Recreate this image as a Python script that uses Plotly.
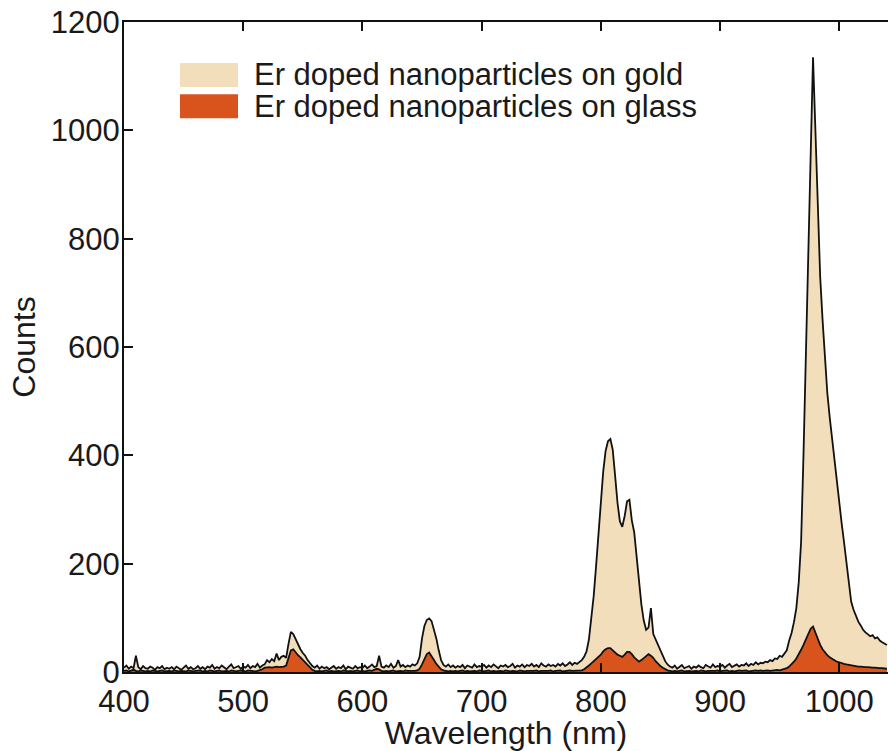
import plotly.graph_objects as go

# ---------------- data ----------------
wavelength = list(range(400, 1042, 2))  # nm, 2-nm sampling

gold_counts = [
    8, 12, 6, 10, 7, 30, 9, 5, 11, 7,          # 400-418
    6, 10, 8, 4, 9, 7, 11, 5, 8, 6,            # 420-438
    9, 5, 10, 7, 4, 8, 12, 6, 9, 5,            # 440-458
    7, 11, 6, 9, 5, 10, 8, 13, 6, 9,           # 460-478
    7, 12, 8, 5, 10, 14, 7, 9, 11, 6,          # 480-498
    10, 8, 13, 7, 11, 9, 15, 8, 12, 14,        # 500-518
    22, 18, 24, 20, 34, 22, 28, 30, 26, 52,    # 520-538
    74, 70, 60, 50, 42, 35, 30, 22, 16, 11,    # 540-558
    8, 12, 6, 10, 7, 9, 5, 8, 11, 6,           # 560-578
    9, 7, 12, 5, 10, 8, 6, 11, 7, 9,           # 580-598
    8, 12, 7, 10, 14, 9, 11, 30, 10, 8,        # 600-618
    12, 9, 15, 8, 11, 22, 10, 13, 9, 12,       # 620-638
    10, 14, 12, 16, 28, 62, 85, 96, 99, 94,    # 640-658
    78, 62, 40, 22, 13, 10, 14, 9, 12, 8,      # 660-678
    11, 9, 13, 7, 12, 10, 8, 14, 9, 11,        # 680-698
    10, 13, 8, 12, 9, 14, 11, 7, 12, 10,       # 700-718
    13, 9, 11, 15, 8, 12, 10, 14, 9, 13,       # 720-738
    11, 15, 10, 13, 9, 16, 12, 10, 14, 11,     # 740-758
    13, 10, 15, 12, 16, 11, 14, 18, 13, 17,    # 760-778
    15, 18, 22, 28, 38, 60, 100, 140, 195, 255,        # 780-798
    315, 370, 408, 426, 430, 410, 362, 312, 278, 268,  # 800-818
    288, 315, 318, 280, 258, 210, 165, 125, 95, 78,    # 820-838
    82, 118, 70, 60, 50, 40, 30, 20, 14, 10,   # 840-858
    8, 12, 6, 10, 13, 7, 9, 11, 6, 10,         # 860-878
    8, 12, 9, 7, 13, 10, 8, 14, 9, 11,         # 880-898
    10, 13, 8, 12, 15, 9, 11, 14, 10, 13,      # 900-918
    12, 16, 11, 15, 13, 18, 14, 17, 16, 19,    # 920-938
    18, 22, 20, 25, 24, 30, 28, 35, 40, 58,    # 940-958
    72, 92, 118, 165, 240, 400, 580, 770, 930, 1135,   # 960-978
    1000, 850, 730, 650, 582, 515, 470, 430, 385, 350, # 980-998
    315, 275, 240, 200, 160, 130, 115, 102, 93, 86,    # 1000-1018
    78, 73, 70, 66, 68, 62, 64, 58, 55, 52,    # 1020-1038
    50,                                        # 1040
]

glass_counts = [
    2, 3, 1, 2, 4, 2, 1, 3, 2, 1,              # 400-418
    2, 1, 3, 2, 1, 2, 3, 1, 2, 2,              # 420-438
    1, 3, 2, 1, 2, 2, 1, 3, 2, 1,              # 440-458
    2, 2, 3, 1, 2, 1, 3, 2, 1, 2,              # 460-478
    3, 1, 2, 2, 1, 3, 2, 1, 2, 3,              # 480-498
    2, 1, 3, 2, 2, 1, 2, 3, 5, 8,              # 500-518
    9, 9, 8, 9, 10, 9, 9, 10, 12, 25,          # 520-538
    40, 42, 36, 31, 27, 22, 17, 12, 7, 4,      # 540-558
    2, 1, 2, 1, 2, 3, 1, 2, 1, 2,              # 560-578
    2, 1, 3, 2, 1, 2, 1, 2, 3, 1,              # 580-598
    2, 1, 2, 3, 2, 4, 6, 5, 2, 1,              # 600-618
    2, 1, 2, 3, 1, 2, 2, 1, 3, 2,              # 620-638
    2, 1, 2, 3, 6, 14, 25, 33, 36, 30,         # 640-658
    22, 15, 9, 5, 3, 2, 1, 2, 1, 2,            # 660-678
    1, 2, 3, 1, 2, 1, 2, 2, 1, 3,              # 680-698
    2, 1, 2, 3, 1, 2, 1, 2, 2, 1,              # 700-718
    3, 2, 1, 2, 2, 1, 3, 2, 1, 2,              # 720-738
    2, 1, 2, 3, 1, 2, 2, 1, 2, 3,              # 740-758
    1, 2, 2, 3, 1, 2, 2, 3, 2, 2,              # 760-778
    2, 2, 3, 5, 8, 12, 16, 20, 24, 27,         # 780-798
    32, 38, 42, 44, 44, 40, 36, 32, 30, 28,    # 800-818
    32, 37, 37, 33, 27, 23, 19, 22, 26, 30,    # 820-838
    33, 30, 26, 20, 15, 11, 8, 5, 3, 2,        # 840-858
    1, 2, 1, 2, 3, 1, 2, 2, 1, 2,              # 860-878
    2, 1, 3, 2, 1, 2, 2, 1, 2, 3,              # 880-898
    1, 2, 2, 3, 1, 2, 1, 2, 3, 2,              # 900-918
    2, 3, 1, 2, 2, 3, 2, 3, 2, 3,              # 920-938
    3, 2, 3, 3, 4, 3, 4, 5, 7, 10,             # 940-958
    14, 19, 25, 32, 41, 50, 60, 70, 80, 84,    # 960-978
    72, 60, 50, 42, 36, 31, 27, 24, 21, 19,    # 980-998
    18, 16, 15, 14, 13, 12, 11, 11, 10, 10,    # 1000-1018
    9, 9, 9, 8, 8, 8, 7, 7, 7, 7,              # 1020-1038
    6,                                         # 1040
]

series_names = ["Er doped nanoparticles on gold", "Er doped nanoparticles on glass"]
series_colors = ["#F3DEBB", "#D9531C"]
x_ticks = [400, 500, 600, 700, 800, 900, 1000]
y_ticks = [0, 200, 400, 600, 800, 1000, 1200]

FONT = "Liberation Sans, Arial, sans-serif"
TXT = "#1a1a1a"

fig = go.Figure()
for name, vals, col in zip(series_names, [gold_counts, glass_counts], series_colors):
    fig.add_trace(go.Scatter(
        x=wavelength, y=vals, name=name, mode="lines",
        fill="tozeroy", fillcolor=col,
        line=dict(color="#111111", width=1.8),
        showlegend=False, hoverinfo="x+y",
    ))

# manual legend (patches + labels)
legend_y = [(0.937, 0.900), (0.889, 0.852)]
for (y1, y0), name, col in zip(legend_y, series_names, series_colors):
    fig.add_shape(type="rect", xref="paper", yref="paper",
                  x0=0.0733, x1=0.1492, y0=y0, y1=y1,
                  fillcolor=col, line=dict(width=0), layer="above")
    fig.add_annotation(xref="paper", yref="paper", x=0.167, y=(y0 + y1) / 2,
                       text=name, showarrow=False, xanchor="left", yanchor="middle",
                       font=dict(family=FONT, size=31, color=TXT))

fig.update_layout(
    width=888, height=751,
    margin=dict(l=124, r=0, t=22, b=79),
    paper_bgcolor="white", plot_bgcolor="white",
    font=dict(family=FONT, size=31, color=TXT),
    showlegend=False,
)
fig.update_xaxes(
    range=[400, 1040.9], tickvals=x_ticks, ticktext=[str(v) for v in x_ticks],
    ticks="inside", ticklen=9, tickwidth=2, tickcolor="#111",
    showline=True, linewidth=2, linecolor="#111", mirror="ticks",
    showgrid=False, zeroline=False, ticklabelstandoff=1,
    tickfont=dict(family=FONT, size=31, color=TXT),
    title=dict(text="Wavelength (nm)", font=dict(family=FONT, size=32, color=TXT), standoff=8),
)
fig.update_yaxes(
    range=[0, 1200], tickvals=y_ticks, ticktext=[str(v) for v in y_ticks],
    ticks="inside", ticklen=9, tickwidth=2, tickcolor="#111",
    showline=True, linewidth=2, linecolor="#111", mirror=False,
    showgrid=False, zeroline=False, ticklabelstandoff=-4,
    tickfont=dict(family=FONT, size=31, color=TXT),
    title=dict(text="Counts", font=dict(family=FONT, size=32, color=TXT), standoff=6),
)

fig.write_html("out.html")
